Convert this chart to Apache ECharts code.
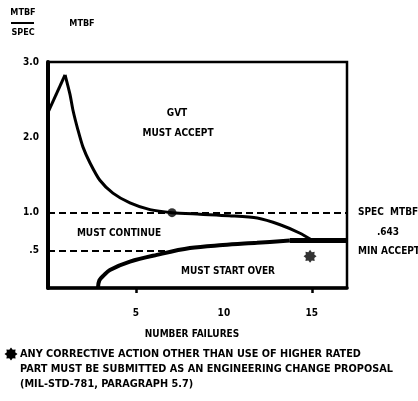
<!DOCTYPE html>
<html>
<head>
<meta charset="utf-8">
<script src="https://cdn.jsdelivr.net/npm/echarts@6/dist/echarts.min.js"></script>
<style>
html,body{margin:0;padding:0;background:#fff;}
#chart{width:418px;height:401px;}
</style>
</head>
<body>
<div id="chart"></div>
<script>
// ---- data ----
const xRange = [0, 17];
const yRange = [0, 3];
const xTickLabels = [5, 10, 15];
const xTickMarks = [5, 15];
const yTickValues = [0.5, 1, 2, 3];
const yTickLabels = ['.5', '1.0', '2.0', '3.0'];

// upper boundary (must accept above): straight rise to a peak, then decay
const riseX = [0, 0.97];
const riseY = [2.33, 2.83];
const decayX = [0.97, 1.25, 1.42, 1.70, 1.99, 2.39, 2.95, 3.69, 4.66, 5.80, 7.05, 8.64, 10.3, 11.9, 13.2, 14.3, 15.05];
const decayY = [2.83, 2.57, 2.36, 2.10, 1.87, 1.66, 1.43, 1.26, 1.13, 1.04, 1.0, 0.98, 0.96, 0.93, 0.84, 0.73, 0.63];

// lower boundary (must start over below)
const lowerX = [2.84, 2.92, 3.18, 3.52, 4.66, 6.19, 8.07, 9.94, 11.88, 13.75];
const lowerY = [0, 0.10, 0.17, 0.24, 0.35, 0.44, 0.53, 0.57, 0.60, 0.63];

// min accept line (.643)
const minAcceptX = [13.75, 17];
const minAcceptY = [0.63, 0.63];

const specMtbf = 1.0;
const continueLine = { x: [0, 7], y: 0.5 };
const dotPoint = [7.05, 1.0];
const starPoint = [14.9, 0.42];

const regionTexts = ['GVT', 'MUST ACCEPT', 'MUST CONTINUE', 'MUST START OVER'];
const rightTexts = ['SPEC  MTBF', '.643', 'MIN ACCEPT'];
const footnote = [
  'ANY CORRECTIVE ACTION OTHER THAN USE OF HIGHER RATED',
  'PART MUST BE SUBMITTED AS AN ENGINEERING CHANGE PROPOSAL',
  '(MIL-STD-781, PARAGRAPH 5.7)'
];
const xName = 'NUMBER FAILURES';

// ---- chart ----
const FONT = '"DejaVu Sans Condensed","Liberation Sans Narrow","DejaVu Sans",sans-serif';
const STAR = 'path://M10 0L6.5 2.7L7.07 7.07L2.7 6.5L0 10L-2.7 6.5L-7.07 7.07L-6.5 2.7L-10 0L-6.5 -2.7L-7.07 -7.07L-2.7 -6.5L0 -10L2.7 -6.5L7.07 -7.07L6.5 -2.7Z';
const zip = (xs, ys) => xs.map((x, i) => [x, ys[i]]);
const txt = (x, y, s, align, size) => ({
  type: 'text', x: x, y: y,
  style: { text: s, fill: '#000', font: 'bold ' + (size || 10) + 'px ' + FONT, textAlign: align || 'center', textVerticalAlign: 'middle' }
});
function starPoly(cx, cy, ro, ri) {
  const pts = [];
  for (let k = 0; k < 16; k++) {
    const r = k % 2 === 0 ? ro : ri;
    const a = k * Math.PI / 8;
    pts.push([cx + r * Math.cos(a), cy + r * Math.sin(a)]);
  }
  return { type: 'polygon', shape: { points: pts }, style: { fill: '#000' } };
}

const chart = echarts.init(document.getElementById('chart'), null, { renderer: 'canvas' });
chart.setOption({
  animation: false,
  backgroundColor: '#fff',
  grid: { left: 48, right: 71, top: 62, bottom: 113, show: true, borderColor: '#000', borderWidth: 2.5, backgroundColor: 'transparent' },
  xAxis: {
    type: 'value', min: xRange[0], max: xRange[1],
    splitLine: { show: false },
    axisLine: { show: true, lineStyle: { color: '#000', width: 3.5 } },
    axisTick: { show: true, customValues: xTickMarks, length: 5, lineStyle: { color: '#000', width: 2.5 } },
    axisLabel: { customValues: xTickLabels, margin: 20, color: '#000', fontWeight: 'bold', fontSize: 10, fontFamily: FONT }
  },
  yAxis: {
    type: 'value', min: yRange[0], max: yRange[1],
    splitLine: { show: false },
    axisLine: { show: true, lineStyle: { color: '#000', width: 4 } },
    axisTick: { show: false },
    axisLabel: {
      customValues: yTickValues, margin: 9, color: '#000', fontWeight: 'bold', fontSize: 10, fontFamily: FONT,
      formatter: v => yTickLabels[yTickValues.indexOf(v)]
    }
  },
  series: [
    {
      type: 'line', data: zip(riseX, riseY), showSymbol: false,
      lineStyle: { color: '#000', width: 3, join: 'miter' }
    },
    {
      type: 'line', data: zip(decayX, decayY), smooth: 0.25, showSymbol: false,
      lineStyle: { color: '#000', width: 3 },
      markLine: {
        silent: true, symbol: 'none', label: { show: false },
        lineStyle: { color: '#000', width: 2, type: [7, 4] },
        data: [
          [{ coord: [xRange[0], specMtbf] }, { coord: [xRange[1], specMtbf] }],
          [{ coord: [continueLine.x[0], continueLine.y] }, { coord: [continueLine.x[1], continueLine.y] }]
        ]
      }
    },
    {
      type: 'line', data: zip(lowerX, lowerY), smooth: 0.35, showSymbol: false,
      lineStyle: { color: '#000', width: 4 }
    },
    {
      type: 'line', data: zip(minAcceptX, minAcceptY), showSymbol: false,
      lineStyle: { color: '#000', width: 5 }
    },
    {
      type: 'scatter', data: [dotPoint], symbol: 'circle', symbolSize: 9,
      itemStyle: { color: '#000' }
    },
    {
      type: 'scatter', data: [starPoint], symbol: STAR, symbolSize: 13,
      itemStyle: { color: '#000' }
    }
  ],
  graphic: [
    txt(23, 13, 'MTBF', 'center', 9),
    { type: 'rect', shape: { x: 11, y: 22, width: 23, height: 2 }, style: { fill: '#000' } },
    txt(23, 33, 'SPEC', 'center', 9),
    txt(82, 24, 'MTBF', 'center', 9),
    txt(177, 113, regionTexts[0]),
    txt(178, 133, regionTexts[1]),
    txt(119, 233, regionTexts[2]),
    txt(228, 271, regionTexts[3]),
    txt(358, 212, rightTexts[0], 'left'),
    txt(388, 232, rightTexts[1]),
    txt(358, 251, rightTexts[2], 'left'),
    txt(192, 334, xName),
    starPoly(11, 354, 6.5, 4.5),
    txt(20, 354, footnote[0], 'left', 10.8),
    txt(20, 369, footnote[1], 'left', 10.8),
    txt(20, 384, footnote[2], 'left', 10.8)
  ]
});
</script>
</body>
</html>
